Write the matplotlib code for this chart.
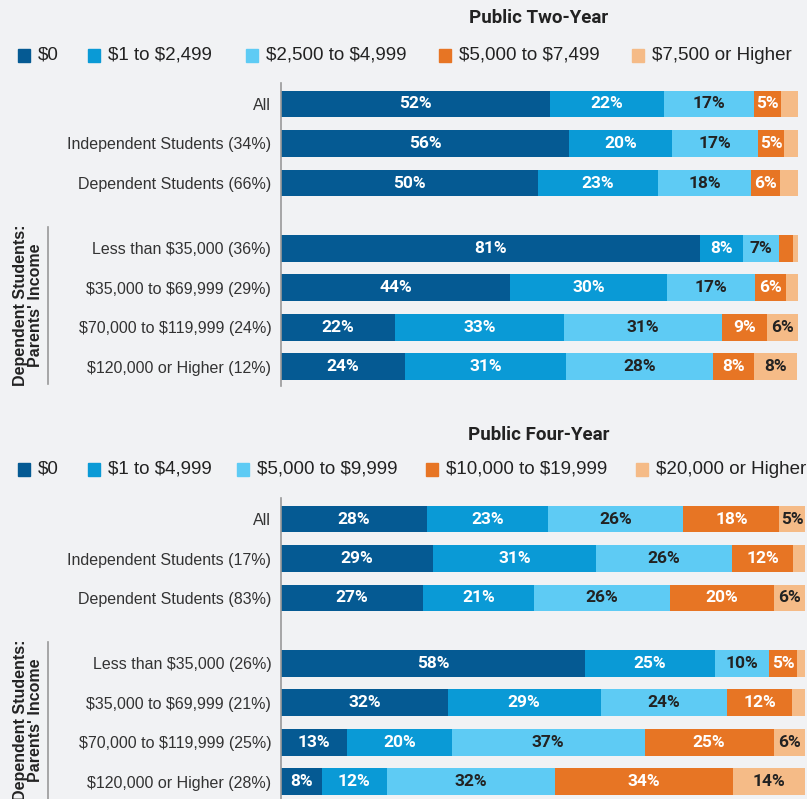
import matplotlib
matplotlib.use("Agg")
import matplotlib.pyplot as plt
from matplotlib.patches import Rectangle
import numpy as np

plt.rcParams["text.parse_math"] = False

W, H = 807, 799
BG = "#f1f2f4"
colors = ["#055a93", "#0a9ad6", "#5ecbf4", "#e77524", "#f5bb87"]
text_colors = ["white", "white", "#222222", "white", "#222222"]

rows = ["All", "Independent Students", "Dependent Students",
        "Less than $35,000", "$35,000 to $69,999", "$70,000 to $119,999", "$120,000 or Higher"]

two_year_shares = ["", "34%", "66%", "36%", "29%", "24%", "12%"]
two_year_legend = ["$0", "$1 to $2,499", "$2,500 to $4,999", "$5,000 to $7,499", "$7,500 or Higher"]
two_year = np.array([
    [52.0, 22.0, 17.4, 5.4, 3.2],
    [55.7, 19.9, 16.7, 5.0, 2.7],
    [49.7, 23.2, 18.0, 5.6, 3.5],
    [81.0, 8.3, 7.0, 2.7, 1.0],
    [44.3, 30.4, 17.0, 6.0, 2.3],
    [22.0, 32.7, 30.6, 8.7, 6.0],
    [24.0, 31.1, 28.4, 7.9, 8.4],
])

four_year_shares = ["", "17%", "83%", "26%", "21%", "25%", "28%"]
four_year_legend = ["$0", "$1 to $4,999", "$5,000 to $9,999", "$10,000 to $19,999", "$20,000 or Higher"]
four_year = np.array([
    [27.9, 23.1, 25.8, 18.3, 5.0],
    [29.0, 31.1, 26.0, 11.6, 2.3],
    [27.1, 21.2, 26.0, 19.7, 6.0],
    [58.0, 24.8, 10.3, 5.4, 1.5],
    [31.8, 29.2, 24.2, 12.4, 2.4],
    [12.6, 20.0, 36.8, 24.6, 6.0],
    [7.8, 12.4, 32.1, 34.0, 13.7],
])

ypos = [0, 1, 2, 3.65, 4.65, 5.65, 6.65]

fig = plt.figure(figsize=(W / 100, H / 100), dpi=100, facecolor=BG)


def fx(px):
    return px / W


def fy(py):
    return 1 - py / H


def draw_panel(top, bottom, right, title, title_y, legend, legend_y, leg_x, data, shares):
    ax = fig.add_axes([fx(281), fy(bottom), fx(right) - fx(281), fy(top) - fy(bottom)])
    ax.set_facecolor(BG)
    left = np.zeros(len(rows))
    for k in range(5):
        ax.barh(ypos, data[:, k], left=left, height=0.68, color=colors[k], linewidth=0)
        for i in range(len(rows)):
            v = data[i, k]
            if v >= 4.5:
                ax.text(left[i] + v / 2, ypos[i], f"{round(v)}%", ha="center", va="center",
                        color=text_colors[k], fontsize=12.5, fontweight="bold", family="Roboto")
        left += data[:, k]
    ax.set_xlim(0, 100)
    unit = 39.5
    ax.set_ylim((bottom - (top + 21)) / unit, -21 / unit)
    ax.set_yticks(ypos)
    ax.set_yticklabels([r if s == "" else f"{r} ({s})" for r, s in zip(rows, shares)],
                       fontsize=11.5, color="#333333", family="Liberation Sans")
    ax.tick_params(axis="y", length=0, pad=7)
    ax.set_xticks([])
    for sp in ["top", "right", "bottom"]:
        ax.spines[sp].set_visible(False)
    ax.spines["left"].set_color("#999999")
    ax.spines["left"].set_linewidth(1.2)

    fig.text(fx(539), fy(title_y), title, ha="center", va="center", fontsize=13.5,
             fontweight="bold", color="#222222", family="Roboto")
    for name, c, x in zip(legend, colors, leg_x):
        fig.add_artist(Rectangle((fx(x), fy(legend_y + 7)), fx(12), 13 / H, color=c,
                                 transform=fig.transFigure))
        fig.text(fx(x + 20), fy(legend_y), name, ha="left", va="center", fontsize=13.5,
                 color="#222222", family="Liberation Sans")

    # group bracket for parents' income rows
    g_top = top + 21 + 3.65 * unit - 21
    fig.add_artist(plt.Line2D([fx(48), fx(48)], [fy(g_top), fy(min(g_top + 157, H))],
                              color="#999999", lw=1.2, transform=fig.transFigure))
    fig.text(fx(28), fy(g_top + 78), "Dependent Students:\nParents' Income", rotation=90,
             ha="center", va="center", fontsize=11.5, fontweight="bold", color="#222222",
             family="Liberation Sans", linespacing=1.0)
    return ax


draw_panel(83, 386, 798, "Public Two-Year", 18, two_year_legend, 55,
           [18, 88, 246, 439, 632], two_year, two_year_shares)
draw_panel(498, 799 + 3, 805, "Public Four-Year", 435, four_year_legend, 469,
           [18, 88, 237, 426, 636], four_year, four_year_shares)

fig.savefig("out.png", dpi=100, facecolor=BG)
